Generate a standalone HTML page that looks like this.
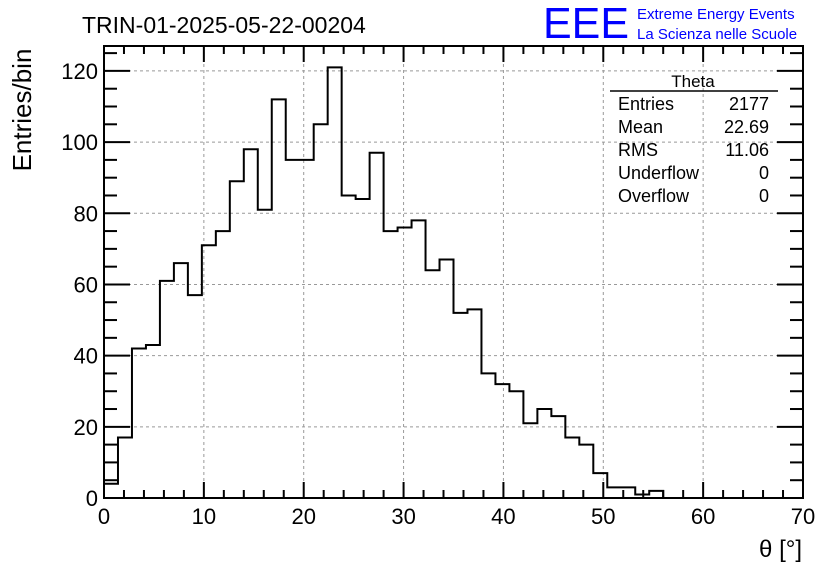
<!DOCTYPE html>
<html><head><meta charset="utf-8"><style>
body{margin:0;background:#fff;}
svg text{font-family:"Liberation Sans",sans-serif;}
</style></head><body>
<svg width="836" height="572" xmlns="http://www.w3.org/2000/svg">
<rect width="836" height="572" fill="#fff"/>
<g id="grid"></g>
<g id="axes"></g>
<path id="hist" fill="none" stroke="#000" stroke-width="2"/>
<text x="82" y="33" font-size="23">TRIN-01-2025-05-22-00204</text>
<text x="543" y="38" font-size="44" fill="#0000ff" textLength="86" lengthAdjust="spacingAndGlyphs">EEE</text>
<text x="637" y="19" font-size="15" fill="#0000ff">Extreme Energy Events</text>
<text x="637" y="39" font-size="15" fill="#0000ff">La Scienza nelle Scuole</text>
<text transform="translate(31,110) rotate(-90)" text-anchor="middle" font-size="26">Entries/bin</text>
<text x="802" y="557" text-anchor="end" font-size="24">θ [°]</text>
<g font-size="18">
<line x1="610" y1="91" x2="778" y2="91" stroke="#000" stroke-width="1.5"/>
<text x="693" y="87" text-anchor="middle" font-size="17">Theta</text>
<text x="618" y="110">Entries</text><text x="769" y="110" text-anchor="end">2177</text>
<text x="618" y="133">Mean</text><text x="769" y="133" text-anchor="end">22.69</text>
<text x="618" y="156">RMS</text><text x="769" y="156" text-anchor="end">11.06</text>
<text x="618" y="179">Underflow</text><text x="769" y="179" text-anchor="end">0</text>
<text x="618" y="202">Overflow</text><text x="769" y="202" text-anchor="end">0</text>
</g>
</svg>
<script>
const counts=[4,17,42,43,61,66,57,71,75,89,98,81,112,95,95,105,121,85,84,97,75,76,78,64,67,52,53,35,32,30,21,25,23,17,15,7,3,3,1,2,0,0,0,0,0,0,0,0,0,0];
const xTicks=[0,10,20,30,40,50,60,70];
const yTicks=[0,20,40,60,80,100,120];
const binWidth=1.4;
const X0=104,X1=803,Y0=498,Y1=46;
const xmin=0,xmax=70,ymin=0,ymax=127;
const sx=v=>X0+(v-xmin)/(xmax-xmin)*(X1-X0);
const sy=v=>Y0-(v-ymin)/(ymax-ymin)*(Y0-Y1);
const NS="http://www.w3.org/2000/svg";
function mk(tag,attrs,parent){const e=document.createElementNS(NS,tag);for(const k in attrs)e.setAttribute(k,attrs[k]);parent.appendChild(e);return e;}
const grid=document.getElementById('grid'),axes=document.getElementById('axes');
xTicks.forEach(t=>{if(t>xmin&&t<xmax){const l=mk('line',{x1:sx(t),x2:sx(t),y1:Y1,y2:Y0,stroke:'#999','stroke-dasharray':'3,3'},grid);

}});
yTicks.forEach(t=>{if(t>ymin){const l=mk('line',{x1:X0,x2:X1,y1:sy(t),y2:sy(t),stroke:'#999','stroke-dasharray':'3,3'},grid);

}});
const fr=mk('rect',{x:X0,y:Y1,width:X1-X0,height:Y0-Y1,fill:'none',stroke:'#000','stroke-width':2},axes);


for(let v=0;v<=70;v+=2){const L=(v%10===0)?16:8;
mk('line',{x1:sx(v),x2:sx(v),y1:Y0,y2:Y0-L,stroke:'#000','stroke-width':2},axes);
mk('line',{x1:sx(v),x2:sx(v),y1:Y1,y2:Y1+L,stroke:'#000','stroke-width':2},axes);}
for(let v=0;v<=125;v+=5){const L=(v%20===0)?26:13;
mk('line',{x1:X0,x2:X0+L,y1:sy(v),y2:sy(v),stroke:'#000','stroke-width':2},axes);
mk('line',{x1:X1,x2:X1-L,y1:sy(v),y2:sy(v),stroke:'#000','stroke-width':2},axes);}
xTicks.forEach(t=>{const e=mk('text',{x:sx(t),y:Y0+26,'text-anchor':'middle','font-size':22},axes);e.textContent=t;

});
yTicks.forEach(t=>{const e=mk('text',{x:X0-6,y:sy(t)+8,'text-anchor':'end','font-size':22},axes);e.textContent=t;

});
let d='M'+sx(0)+','+sy(0);
counts.forEach((c,i)=>{d+=' L'+sx(i*binWidth)+','+sy(c)+' L'+sx((i+1)*binWidth)+','+sy(c);});
d+=' L'+sx(counts.length*binWidth)+','+sy(0);
document.getElementById('hist').setAttribute('d',d);
</script>
</body></html>
